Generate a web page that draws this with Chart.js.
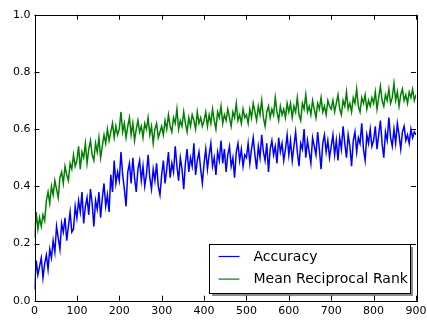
<!DOCTYPE html>
<html>
<head>
<meta charset="utf-8">
<script src="https://cdn.jsdelivr.net/npm/chart.js@4/dist/chart.umd.min.js"></script>
<style>
  html, body { margin: 0; padding: 0; background: #fff; }
  #wrap { width: 427px; height: 322px; }
</style>
</head>
<body>
<div id="wrap"><canvas id="chart" width="427" height="322"></canvas></div>
<script>
// values, one sample every 4 steps (0..900)
const stepSize = 4;
const xTicks = [0, 100, 200, 300, 400, 500, 600, 700, 800, 900];
const yTicks = [0.0, 0.2, 0.4, 0.6, 0.8, 1.0];
const seriesNames = ['Accuracy', 'Mean Reciprocal Rank'];
const seriesColors = ['#0000ff', '#008000'];

const accuracy = [
    0.04, 0.14, 0.09, 0.12, 0.15, 0.08, 0.13, 0.16, 0.11, 0.18, 0.15, 0.21, 0.17, 0.26, 0.22, 0.18, 0.27, 0.24, 0.29, 0.21, 0.26, 0.31, 0.24, 0.25, 0.33,
    0.29, 0.35, 0.31, 0.38, 0.27, 0.33, 0.36, 0.30, 0.39, 0.34, 0.26, 0.35, 0.32, 0.38, 0.29, 0.36, 0.41, 0.33, 0.37, 0.31, 0.44, 0.38, 0.49, 0.41, 0.45,
    0.42, 0.52, 0.44, 0.39, 0.33, 0.45, 0.48, 0.41, 0.50, 0.43, 0.38, 0.46, 0.49, 0.42, 0.47, 0.40, 0.44, 0.51, 0.43, 0.39, 0.46, 0.42, 0.48, 0.40, 0.37,
    0.44, 0.49, 0.41, 0.46, 0.52, 0.43, 0.48, 0.45, 0.54, 0.47, 0.42, 0.50, 0.46, 0.39, 0.48, 0.53, 0.45, 0.50, 0.47, 0.55, 0.44, 0.49, 0.52, 0.46, 0.41,
    0.48, 0.53, 0.46, 0.51, 0.55, 0.47, 0.50, 0.44, 0.52, 0.49, 0.56, 0.48, 0.53, 0.45, 0.51, 0.54, 0.47, 0.50, 0.43, 0.52, 0.55, 0.49, 0.53, 0.47, 0.51,
    0.50, 0.55, 0.48, 0.53, 0.57, 0.51, 0.46, 0.54, 0.50, 0.58, 0.52, 0.49, 0.55, 0.45, 0.53, 0.56, 0.51, 0.54, 0.48, 0.57, 0.52, 0.55, 0.49, 0.53, 0.58,
    0.51, 0.56, 0.49, 0.54, 0.59, 0.52, 0.47, 0.55, 0.53, 0.60, 0.50, 0.56, 0.52, 0.48, 0.57, 0.54, 0.51, 0.59, 0.53, 0.46, 0.55, 0.58, 0.52, 0.56, 0.50,
    0.54, 0.58, 0.51, 0.56, 0.49, 0.57, 0.53, 0.61, 0.55, 0.50, 0.58, 0.54, 0.47, 0.56, 0.59, 0.52, 0.57, 0.55, 0.62, 0.53, 0.49, 0.58, 0.55, 0.60, 0.54,
    0.56, 0.61, 0.53, 0.58, 0.63, 0.55, 0.50, 0.59, 0.56, 0.64, 0.57, 0.54, 0.60, 0.55, 0.62, 0.58, 0.53, 0.59, 0.61, 0.56, 0.58, 0.55, 0.60, 0.57, 0.59, 0.58
];

const mrr = [
    0.22, 0.31, 0.25, 0.29, 0.26, 0.30, 0.28, 0.35, 0.38, 0.34, 0.40, 0.37, 0.42, 0.39, 0.36, 0.43, 0.45, 0.41, 0.47, 0.44, 0.42, 0.48, 0.46, 0.51, 0.47,
    0.49, 0.54, 0.46, 0.52, 0.50, 0.55, 0.48, 0.53, 0.56, 0.51, 0.49, 0.55, 0.52, 0.57, 0.50, 0.54, 0.58, 0.55, 0.60, 0.56, 0.59, 0.62, 0.57, 0.61, 0.58,
    0.60, 0.66, 0.59, 0.62, 0.57, 0.61, 0.64, 0.58, 0.62, 0.56, 0.60, 0.63, 0.59, 0.61, 0.57, 0.62, 0.60, 0.64, 0.58, 0.61, 0.55, 0.60, 0.62, 0.57, 0.59,
    0.61, 0.58, 0.63, 0.60, 0.65, 0.61, 0.59, 0.64, 0.62, 0.67, 0.60, 0.63, 0.61, 0.66, 0.62, 0.59, 0.64, 0.61, 0.65, 0.63, 0.60, 0.66, 0.62, 0.64, 0.61,
    0.63, 0.66, 0.61, 0.65, 0.62, 0.67, 0.63, 0.60, 0.66, 0.64, 0.68, 0.62, 0.65, 0.63, 0.67, 0.64, 0.61, 0.66, 0.64, 0.69, 0.63, 0.65, 0.62, 0.67, 0.64,
    0.65, 0.62, 0.67, 0.64, 0.69, 0.66, 0.63, 0.68, 0.65, 0.70, 0.64, 0.61, 0.66, 0.68, 0.64, 0.67, 0.65, 0.71, 0.66, 0.63, 0.68, 0.65, 0.67, 0.64, 0.69,
    0.66, 0.69, 0.64, 0.68, 0.66, 0.71, 0.65, 0.63, 0.69, 0.67, 0.72, 0.66, 0.68, 0.65, 0.70, 0.67, 0.64, 0.69, 0.67, 0.71, 0.66, 0.68, 0.65, 0.70, 0.68,
    0.67, 0.70, 0.66, 0.69, 0.72, 0.67, 0.65, 0.70, 0.68, 0.73, 0.67, 0.69, 0.66, 0.71, 0.69, 0.74, 0.68, 0.66, 0.71, 0.69, 0.72, 0.67, 0.70, 0.68, 0.71,
    0.69, 0.73, 0.67, 0.71, 0.75, 0.70, 0.68, 0.72, 0.70, 0.74, 0.69, 0.71, 0.76, 0.70, 0.73, 0.68, 0.72, 0.74, 0.70, 0.72, 0.69, 0.73, 0.71, 0.74, 0.70, 0.72
];

function toPoints(values) {
    return values.map((v, i) => ({ x: i * stepSize, y: v }));
}

// matplotlib "classic" look: black frame, ticks pointing inwards on all sides
const framePlugin = {
    id: 'frame',
    afterDatasetsDraw(chart) {
        const { ctx, chartArea: a, scales } = chart;
        const len = 5;
        ctx.save();
        ctx.strokeStyle = '#000';
        ctx.lineWidth = 1;
        ctx.beginPath();
        xTicks.forEach(t => {
            const px = Math.round(scales.x.getPixelForValue(t)) + 0.5;
            ctx.moveTo(px, a.bottom); ctx.lineTo(px, a.bottom - len);
            ctx.moveTo(px, a.top); ctx.lineTo(px, a.top + len);
        });
        yTicks.forEach(t => {
            const py = Math.round(scales.y.getPixelForValue(t)) + 0.5;
            ctx.moveTo(a.left, py); ctx.lineTo(a.left + len, py);
            ctx.moveTo(a.right, py); ctx.lineTo(a.right - len, py);
        });
        ctx.stroke();
        ctx.strokeRect(Math.round(a.left) + 0.5, Math.round(a.top) + 0.5,
            Math.round(a.right - a.left), Math.round(a.bottom - a.top));
        ctx.restore();
    }
};

// legend box in the lower right corner with a drop shadow
const legendBoxPlugin = {
    id: 'legendBox',
    afterDraw(chart) {
        const { ctx, chartArea: a } = chart;
        const w = 201, h = 49;
        const x = Math.round(a.right) - 207 + 0.5;
        const y = Math.round(a.bottom) - 57 + 0.5;
        ctx.save();
        ctx.fillStyle = 'rgba(0,0,0,0.45)';
        ctx.fillRect(x + 2.5, y + 2.5, w, h);
        ctx.fillStyle = '#fff';
        ctx.fillRect(x, y, w, h);
        ctx.strokeStyle = '#000';
        ctx.lineWidth = 1;
        ctx.strokeRect(x, y, w, h);
        ctx.font = '14px "DejaVu Sans"';
        ctx.textBaseline = 'middle';
        ctx.fillStyle = '#000';
        seriesNames.forEach((name, i) => {
            const cy = y + 12 + i * 22.6;
            ctx.strokeStyle = seriesColors[i];
            ctx.lineWidth = 1.2;
            ctx.beginPath();
            ctx.moveTo(x + 9, cy);
            ctx.lineTo(x + 30, cy);
            ctx.stroke();
            ctx.fillText(name, x + 44, cy + 0.5);
        });
        ctx.restore();
    }
};

new Chart(document.getElementById('chart'), {
    type: 'line',
    data: {
        datasets: [
            {
                label: seriesNames[0],
                data: toPoints(accuracy),
                borderColor: seriesColors[0],
                borderWidth: 1.5,
                pointRadius: 0,
                tension: 0,
                order: 2
            },
            {
                label: seriesNames[1],
                data: toPoints(mrr),
                borderColor: seriesColors[1],
                borderWidth: 1.5,
                pointRadius: 0,
                tension: 0,
                order: 1
            }
        ]
    },
    options: {
        responsive: false,
        animation: false,
        events: [],
        layout: { padding: { top: 14.7, right: 11, left: 0, bottom: 0 } },
        plugins: {
            legend: { display: false },
            tooltip: { enabled: false }
        },
        scales: {
            x: {
                type: 'linear',
                min: 0,
                max: 900,
                afterFit: s => { s.height = 21.3; s.paddingLeft = 0; s.paddingRight = 0; },
                afterBuildTicks: s => { s.ticks = xTicks.map(v => ({ value: v })); },
                grid: { display: false, drawTicks: false },
                border: { display: false },
                ticks: {
                    color: '#000',
                    padding: 4,
                    font: { family: 'DejaVu Sans', size: 11 },
                    maxRotation: 0,
                    callback: v => String(v)
                }
            },
            y: {
                type: 'linear',
                min: 0,
                max: 1,
                afterFit: s => { s.width = 34.5; s.paddingTop = 0; s.paddingBottom = 0; },
                afterBuildTicks: s => { s.ticks = yTicks.map(v => ({ value: v })); },
                grid: { display: false, drawTicks: false },
                border: { display: false },
                ticks: {
                    color: '#000',
                    padding: 4,
                    font: { family: 'DejaVu Sans', size: 11 },
                    callback: v => Number(v).toFixed(1)
                }
            }
        }
    },
    plugins: [framePlugin, legendBoxPlugin]
});
</script>
</body>
</html>
